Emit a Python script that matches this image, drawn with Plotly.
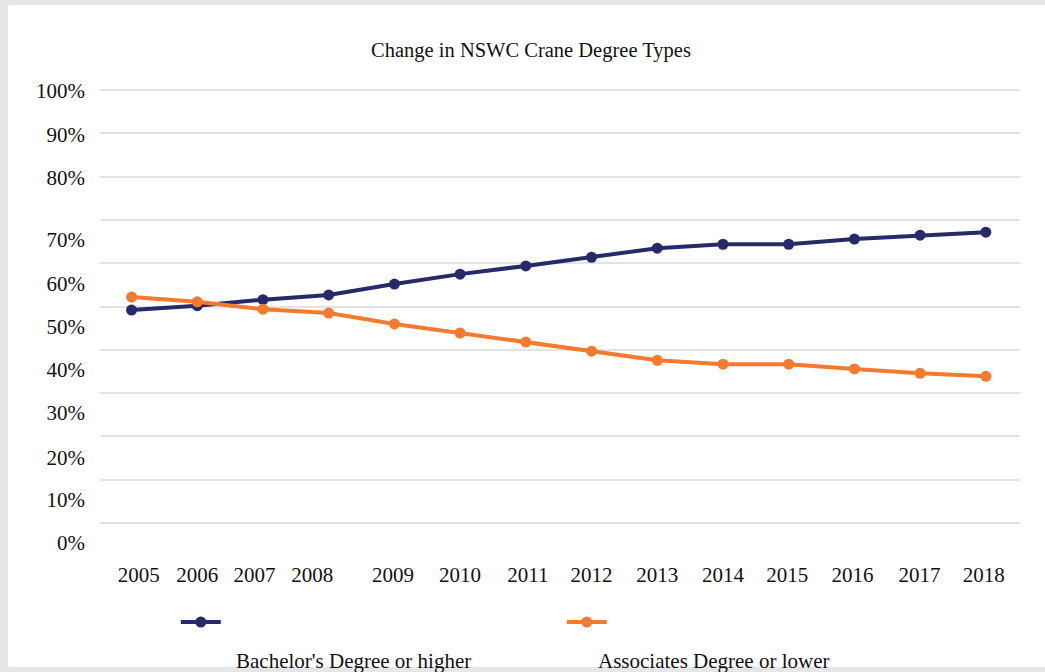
import plotly.graph_objects as go

# ---- data ----
years = [2005, 2006, 2007, 2008, 2009, 2010, 2011, 2012, 2013, 2014, 2015, 2016, 2017, 2018]
bachelor = [49.2, 50.2, 51.6, 52.7, 55.2, 57.5, 59.4, 61.4, 63.5, 64.4, 64.4, 65.6, 66.5, 67.2]
associates = [52.2, 51.1, 49.4, 48.5, 46.0, 43.9, 41.8, 39.7, 37.6, 36.7, 36.7, 35.6, 34.6, 33.9]
series_names = ["Bachelor's Degree or higher", "Associates Degree or lower"]
title_text = "Change in NSWC Crane Degree Types"

# tick labels (as drawn in the original chart)
x_tick_text = [str(y) for y in years]
y_tick_text = ["100%", "90%", "80%", "70%", "60%", "50%", "40%", "30%", "20%", "10%", "0%"]
grid_vals = [100, 90, 80, 70, 60, 50, 40, 30, 20, 10, 0]

# label placement as seen in the original (labels sit slightly off their gridlines)
x_tick_pos = [2005.11, 2006.0, 2006.87, 2007.75, 2008.98, 2010.0, 2011.03, 2012.0,
              2013.0, 2014.0, 2014.98, 2015.97, 2016.99, 2017.97]
y_tick_pos = [99.8, 89.8, 79.7, 65.4, 55.4, 45.4, 35.4, 25.5, 15.2, 5.4, -4.5]

NAVY = "#272a68"
ORANGE = "#f47a30"
FONT = "Liberation Serif"
TXT = "#111111"
YR = [-6, 100.5]

fig = go.Figure()
fig.add_trace(go.Scatter(x=years, y=bachelor, name=" ", mode="lines+markers",
                         line=dict(color=NAVY, width=4), marker=dict(size=11, color=NAVY)))
fig.add_trace(go.Scatter(x=years, y=associates, name="  ", mode="lines+markers",
                         line=dict(color=ORANGE, width=4), marker=dict(size=11, color=ORANGE)))
# invisible helper trace so the label axis is drawn
fig.add_trace(go.Scatter(x=[years[0]], y=[grid_vals[-1]], yaxis="y2", mode="markers",
                         marker=dict(opacity=0), showlegend=False, hoverinfo="skip"))

fig.update_layout(
    width=1045, height=672,
    margin=dict(l=100, r=25, t=88, b=123),
    paper_bgcolor="#e5e6e8",
    plot_bgcolor="rgba(0,0,0,0)",
    font=dict(family=FONT, size=21, color=TXT),
    title=dict(text=title_text, x=531 / 1045, xref="container", xanchor="center",
               y=1 - 50 / 672, yref="container", yanchor="middle",
               font=dict(family=FONT, size=20.5, color=TXT)),
    xaxis=dict(range=[2004.52, 2018.52], tickmode="array", tickvals=x_tick_pos,
               ticktext=x_tick_text, showgrid=False, zeroline=False, showline=False,
               ticks="", ticklabelstandoff=11, fixedrange=True),
    yaxis=dict(range=YR, tickmode="array", tickvals=grid_vals, showticklabels=False,
               showgrid=True, gridcolor="#e3e3e3", gridwidth=2, zeroline=False,
               showline=False, ticks=""),
    yaxis2=dict(range=YR, overlaying="y", side="left", tickmode="array",
                tickvals=y_tick_pos, ticktext=y_tick_text, showgrid=False,
                zeroline=False, showline=False, ticks="", ticklabelstandoff=14),
    showlegend=True,
    legend=dict(orientation="h", x=(185 - 100) / 920 - 0.01, xanchor="left",
                y=(549 - 622) / 461, yanchor="middle",
                font=dict(size=10), entrywidth=331, entrywidthmode="pixels",
                bgcolor="rgba(0,0,0,0)", itemwidth=40, tracegroupgap=0),
    shapes=[dict(type="rect", xref="paper", yref="paper",
                 x0=(8 - 100) / 920, x1=1.1, y0=(549 - 667) / 461, y1=(549 - 5) / 461,
                 fillcolor="white", line=dict(width=0), layer="below")],
)

# legend labels placed under the legend symbols, as in the original
for name, xp in zip(series_names, [234, 596]):
    fig.add_annotation(text=name, xref="paper", yref="paper",
                       x=(xp - 100) / 920, xanchor="left",
                       y=(549 - 661) / 461, yanchor="middle",
                       showarrow=False, font=dict(family=FONT, size=21, color=TXT))

fig.write_html("out.html")
